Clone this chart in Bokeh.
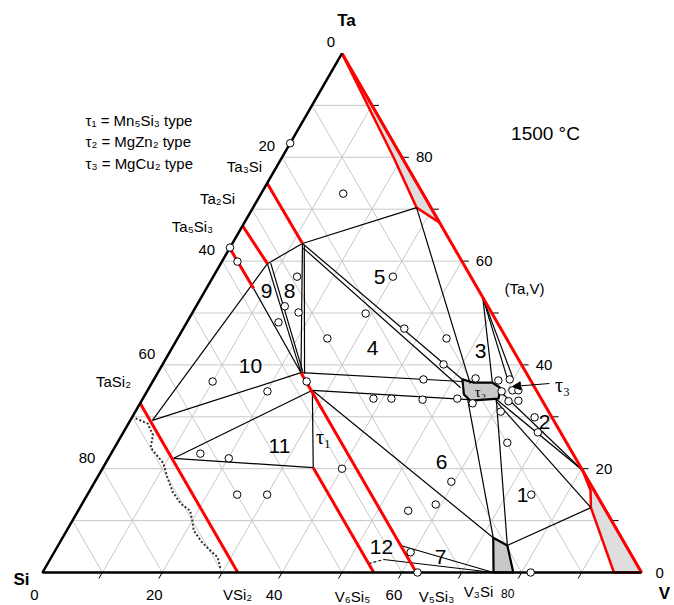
import numpy as np
from bokeh.plotting import figure
from bokeh.models import Range1d, Arrow, NormalHead
from bokeh.core.properties import value
from bokeh.embed import file_html
from bokeh.resources import INLINE

# ---------------- data (compositions in at.% : V, Ta ; Si = 100 - V - Ta) -------------
# sample points (open circles)
circ_V = [0.0, 0.0, 2.6, 14.0, 13.7, 30.0, 14.8, 17.7, 15.3, 25.0, 25.7, 20.1, 10.0, 14.9,
          20.1, 25.0, 30.0, 40.0, 29.0, 36.9, 44.9, 46.9, 45.0, 53.6, 57.6, 59.4, 59.2, 60.9,
          61.9, 38.5, 41.5, 46.8, 52.5, 55.5, 61.3, 62.9, 61.0, 67.2, 69.2, 65.1, 74.1, 59.5,
          59.1, 55.1, 59.5, 62.6, 81.5]
circ_Ta = [82.7, 62.6, 59.9, 57.0, 73.0, 57.0, 51.3, 50.1, 48.2, 45.1, 36.8, 34.9, 36.8, 22.9,
           22.0, 15.0, 15.0, 20.0, 49.9, 47.0, 45.1, 40.1, 37.2, 37.4, 37.0, 37.2, 34.9, 35.1,
           35.1, 33.5, 33.5, 33.3, 33.5, 32.6, 33.0, 33.1, 31.0, 29.9, 27.0, 25.0, 15.0, 17.5,
           13.1, 11.9, 3.9, 0.0, 0.0]

# tie lines / phase boundaries (black)
tie_V1 = [11.7, 7.8, 8.3, 7.9, 11.7, 12.2, 7.8, 3.7, 10.9, 10.9, 27.5, 11.7, 11.7, 12.3,
          23.9, 27.5, 27.5, 27.3, 47.0, 47.0, 47.0, 54.2, 59.0, 59.1, 75.0, 59.2, 59.8,
          57.2, 55.7]
tie_Ta1 = [63.4, 59.5, 59.6, 54.7, 63.4, 63.0, 59.5, 29.3, 22.0, 22.0, 35.1, 63.4, 63.4, 62.5,
           38.5, 35.1, 35.1, 70.3, 53.0, 53.0, 53.0, 33.5, 33.5, 33.1, 5.2, 33.3, 34.3,
           5.2, 2.5]
tie_V2 = [7.8, 23.9, 24.1, 23.9, 23.9, 24.6, 3.7, 23.9, 27.5, 35.1, 35.1, 27.3, 51.5, 52.0,
          51.7, 54.5, 71.9, 53.2, 56.8, 58.9, 59.7, 71.9, 75.0, 85.3, 85.3, 80.3, 80.3,
          75.3, 75.3]
tie_Ta2 = [59.5, 38.5, 38.7, 38.5, 38.5, 38.3, 29.3, 38.5, 35.1, 20.2, 20.2, 70.3, 37.2, 35.6,
           36.8, 33.3, 6.7, 36.4, 36.6, 37.4, 37.6, 6.7, 5.2, 12.5, 12.5, 19.7, 19.7,
           0.0, 0.0]
dash_V = [53.6, 55.7]
dash_Ta = [1.7, 2.5]

# homogeneity ranges of compounds (red)
red_V1 = [0.0, 0.0, 0.0, 0.0, 23.9, 35.1, 0.0]
red_Ta1 = [75.0, 66.8, 62.5, 32.6, 38.5, 20.2, 100.0]
red_V2 = [11.7, 7.8, 7.9, 32.6, 62.4, 55.3, 100.0]
red_Ta2 = [63.4, 59.5, 54.7, 0.0, 0.0, 0.0, 0.0]

# (Ta,V) solid solution widening, grey fields
bcc_top_V = [0.0, 18.6, 27.3, 32.6]
bcc_top_Ta = [100.0, 80.0, 70.3, 67.4]
bcc_bot_V = [80.3, 83.6, 85.3, 95.4, 100.0]
bcc_bot_Ta = [19.7, 15.8, 12.5, 0.0, 0.0]
tau2_V = [51.5, 53.6, 56.8, 58.6, 59.4, 54.9, 53.2]
tau2_Ta = [37.2, 36.6, 36.6, 35.6, 33.5, 33.1, 34.3]
v3si_V = [71.9, 75.0, 78.6, 75.3]
v3si_Ta = [6.7, 5.2, 0.0, 0.0]

# liquid boundary (dotted)
liq_V = [0.7, 3.2, 5.2, 6.0, 8.5, 9.7, 11.7, 14.0, 16.4, 18.7, 20.0, 21.2, 23.5, 25.1, 27.8, 29.3]
liq_Ta = [29.7, 28.7, 26.5, 24.1, 22.0, 21.0, 18.3, 15.5, 13.3, 11.9, 10.0, 8.1, 6.0, 4.8, 2.9, 0.8]

ticks = [10, 20, 30, 40, 50, 60, 70, 80, 90]
tick_labels = [0, 20, 40, 60, 80]

# ---------------- geometry ----------------
S3 = np.sqrt(3) / 2


def tern(V, Ta):
    V = np.asarray(V, dtype=float)
    Ta = np.asarray(Ta, dtype=float)
    return V + Ta / 2, Ta * S3


W, H = 674, 605
SX = 5.99
SY = 5.993
X0 = -42 / SX
X1 = X0 + W / SX
Y1 = 572 / SY
Y0 = Y1 - H / SY


def pix(px, py):
    """picture pixel -> data coords (for text placement)"""
    return X0 + px / SX, Y1 - py / SY


p = figure(width=W, height=H, x_range=Range1d(X0, X1), y_range=Range1d(Y0, Y1),
           x_axis_type=None, y_axis_type=None, toolbar_location=None,
           output_backend="svg", min_border=0)
p.outline_line_color = None
p.background_fill_color = "white"

# grid
gx, gy = [], []
for k in ticks:
    for a, b in [((0, k), (100 - k, k)), ((k, 0), (k, 100 - k)), ((100 - k, 0), (0, 100 - k))]:
        x, y = tern([a[0], b[0]], [a[1], b[1]])
        gx.append(list(x))
        gy.append(list(y))
p.multi_line(gx, gy, line_color="#c8c8c8", line_width=1)

# ticks
tx0, ty0, tx1, ty1 = [], [], [], []
for k in ticks:
    x, y = tern(100 - k, k)           # right edge, horizontal outwards
    tx0.append(float(x)); ty0.append(float(y)); tx1.append(float(x) + 7 / SX); ty1.append(float(y))
    x, y = tern(k, 0)                 # bottom edge
    tx0.append(float(x)); ty0.append(float(y)); tx1.append(float(x) - 3.5 / SX); ty1.append(float(y) - 6 / SY)
    x, y = tern(0, 100 - k)           # left edge
    tx0.append(float(x)); ty0.append(float(y)); tx1.append(float(x) - 3.5 / SX); ty1.append(float(y) - 6 / SY)
p.segment(tx0, ty0, tx1, ty1, line_color="black", line_width=1)

# grey fields
for pv, pt in [(bcc_top_V, bcc_top_Ta), (bcc_bot_V, bcc_bot_Ta)]:
    x, y = tern(pv, pt)
    p.patch(x, y, fill_color="#dedede", line_color="red", line_width=2.5)
for pv, pt in [(tau2_V, tau2_Ta), (v3si_V, v3si_Ta)]:
    x, y = tern(pv, pt)
    p.patch(x, y, fill_color="#c8c8c8", line_color="black", line_width=2.2)

# black tie lines
x0, y0 = tern(tie_V1, tie_Ta1)
x1, y1 = tern(tie_V2, tie_Ta2)
p.segment(x0, y0, x1, y1, line_color="black", line_width=1.2)
x, y = tern(dash_V, dash_Ta)
p.line(x, y, line_color="black", line_width=1.2, line_dash="3 2")

# liquid boundary
x, y = tern(liq_V, liq_Ta)
p.line(x, y, line_color="#333333", line_width=2, line_dash="2 2")

# red lines
x0, y0 = tern(red_V1, red_Ta1)
x1, y1 = tern(red_V2, red_Ta2)
p.segment(x0, y0, x1, y1, line_color="red", line_width=3)

# black outer edges
x, y = tern([100, 0, 0], [0, 0, 100])
p.line(x, y, line_color="black", line_width=2.5)

# sample points
x, y = tern(circ_V, circ_Ta)
p.scatter(x, y, marker="circle", size=7.5, fill_color="white", line_color="black", line_width=1)

# tau3 arrow
ax0, ay0 = pix(549, 383)
ax1, ay1 = pix(512, 386)
p.add_layout(Arrow(end=NormalHead(size=8, fill_color="black", line_color="black"),
                   x_start=ax0, y_start=ay0, x_end=ax1, y_end=ay1,
                   line_color="black", line_width=1.2))

FONT = value("Liberation Sans")


def txt(items, size, align="center", bold=False, font=FONT):
    xs, ys, ts = [], [], []
    for t, px, py in items:
        x, y = pix(px, py)
        xs.append(x); ys.append(y); ts.append(t)
    p.text(xs, ys, text=ts, text_font=font, text_font_size=size, text_align=align,
           text_baseline="middle", text_color="black",
           text_font_style="bold" if bold else "normal")


# tick labels
lx, ly, lt = [], [], []
for s in tick_labels:
    x, y = tern(0, 100 - s)
    lx.append(float(x) - 7 / SX); ly.append(float(y) + 11 / SY); lt.append(str(s))
p.text(lx, ly, text=lt, text_font=FONT, text_font_size="15px", text_align="right",
       text_baseline="middle")
lx, ly, lt = [], [], []
for s in tick_labels:
    x, y = tern(100 - s, s)
    lx.append(float(x) + 14 / SX); ly.append(float(y)); lt.append(str(s))
p.text(lx, ly, text=lt, text_font=FONT, text_font_size="15px", text_align="left",
       text_baseline="middle")
lx, ly, lt = [], [], []
for s in tick_labels[:-1]:
    x, y = tern(s, 0)
    lx.append(float(x) - 8 / SX); ly.append(float(y) - 22 / SY); lt.append(str(s))
p.text(lx, ly, text=lt, text_font=FONT, text_font_size="15px", text_align="center",
       text_baseline="middle")
x, y = tern(80, 0)
p.text([float(x) - 14 / SX], [float(y) - 21 / SY], text=["80"], text_font=FONT,
       text_font_size="12px", text_align="center", text_baseline="middle")

# corner labels
txt([("Ta", 346, 20), ("Si", 21, 579), ("V", 664, 593)], "17px", bold=True)

# compounds
txt([("Ta₃Si", 244, 166), ("Ta₂Si", 217, 198), ("Ta₅Si₃", 192, 226), ("TaSi₂", 113, 381),
     ("VSi₂", 237, 594), ("V₃Si", 478, 591), ("V₆Si₅", 352, 596), ("V₅Si₃", 436, 596),
     ("(Ta,V)", 524, 288)], "15px")

# legend and temperature
txt([("τ₁ = Mn₅Si₃ type", 85, 120), ("τ₂ = MgZn₂ type", 85, 141), ("τ₃ = MgCu₂ type", 85, 163)],
    "15px", align="left")
txt([("1500 °C", 545, 133)], "19px")

# region numbers
txt([("5", 379, 276), ("4", 372, 347), ("3", 480, 350), ("8", 289, 290), ("9", 266, 290),
     ("10", 250, 365), ("11", 279, 445), ("6", 441, 461), ("1", 522, 494), ("2", 544, 421),
     ("7", 440, 556), ("12", 381, 546)], "21px")
txt([("τ₁", 323, 436), ("τ₃", 562, 384)], "20px", font=value("Liberation Serif"))
txt([("τ₂", 480, 391)], "15px", font=value("Liberation Serif"))

open("out.html", "w").write(file_html(p, INLINE))
